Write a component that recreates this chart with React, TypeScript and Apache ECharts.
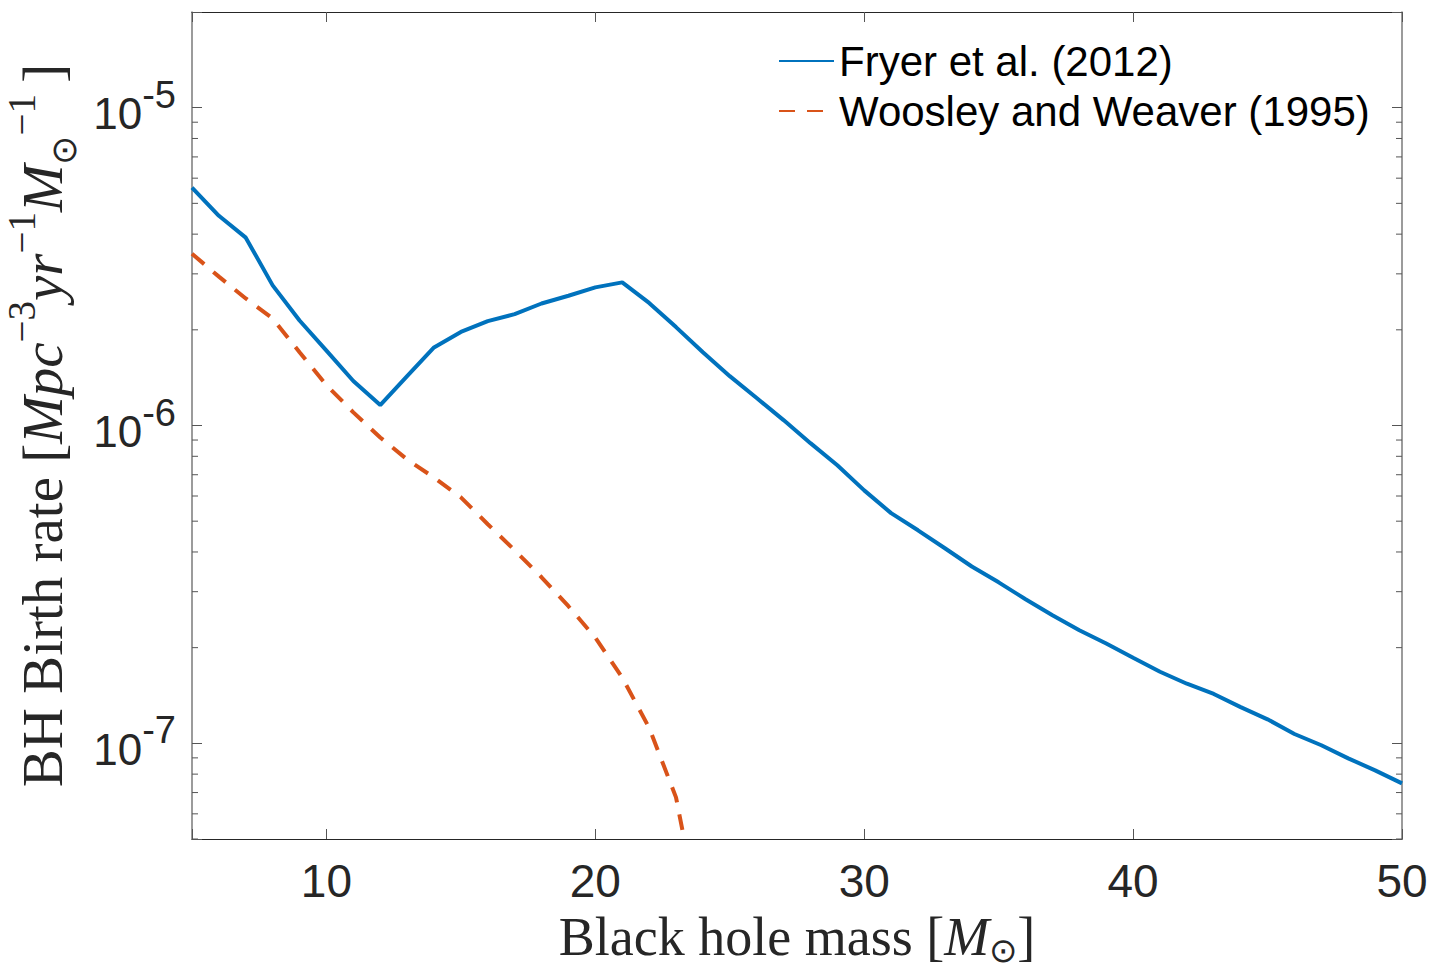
import React, { useEffect, useRef } from 'react';
import * as echarts from 'echarts';

// Black hole mass [M_sun]
const MASS_FRYER = [5, 6, 7, 8, 9, 10, 11, 12, 13, 14, 15, 16, 17, 18, 19, 20, 21, 22, 23, 24, 25, 26, 27, 28, 29, 30, 31, 32, 33, 34, 35, 36, 37, 38, 39, 40, 41, 42, 43, 44, 45, 46, 47, 48, 49, 50];
// BH birth rate, Fryer et al. (2012)
const RATE_FRYER = [5.6e-6, 4.57e-6, 3.9e-6, 2.76e-6, 2.14e-6, 1.72e-6, 1.38e-6, 1.16e-6, 1.43e-6, 1.76e-6, 1.97e-6, 2.13e-6, 2.24e-6, 2.42e-6, 2.56e-6, 2.72e-6, 2.82e-6, 2.43e-6, 2.04e-6, 1.7e-6, 1.43e-6, 1.22e-6, 1.04e-6, 8.8e-7, 7.5e-7, 6.25e-7, 5.3e-7, 4.68e-7, 4.11e-7, 3.6e-7, 3.21e-7, 2.84e-7, 2.53e-7, 2.27e-7, 2.06e-7, 1.86e-7, 1.68e-7, 1.54e-7, 1.43e-7, 1.3e-7, 1.19e-7, 1.07e-7, 9.86e-8, 8.97e-8, 8.22e-8, 7.48e-8];

const MASS_WW = [5, 6, 7, 8, 9, 10, 11, 12, 13, 14, 15, 16, 17, 18, 19, 20, 21, 22, 23, 24];
// BH birth rate, Woosley and Weaver (1995)
const RATE_WW = [3.47e-6, 2.94e-6, 2.51e-6, 2.17e-6, 1.7e-6, 1.34e-6, 1.1e-6, 9.17e-7, 7.82e-7, 6.86e-7, 5.94e-7, 4.89e-7, 4.05e-7, 3.33e-7, 2.7e-7, 2.15e-7, 1.61e-7, 1.12e-7, 6.76e-8, 2.5e-8];

const SERIES_NAMES = ['Fryer et al. (2012)', 'Woosley and Weaver (1995)'];

const X_MIN = 5;
const X_MAX = 50;
const Y_MIN = 5e-8;
const Y_MAX = 2e-5;

// minor ticks of the log axis (2..9 of each decade)
const MINOR_TICKS = [
  5e-8, 6e-8, 7e-8, 8e-8, 9e-8,
  2e-7, 3e-7, 4e-7, 5e-7, 6e-7, 7e-7, 8e-7, 9e-7,
  2e-6, 3e-6, 4e-6, 5e-6, 6e-6, 7e-6, 8e-6, 9e-6,
];

const SANS = '"Liberation Sans", Arial, Helvetica, sans-serif';
const SERIF = '"Liberation Serif", "Times New Roman", serif';
const AX = '#262626';

export default function App() {
  const ref = useRef<HTMLDivElement>(null);

  useEffect(() => {
    if (!ref.current) return;
    const chart = echarts.init(ref.current, undefined, { renderer: 'svg' });

    const yLabelFormatter = (v: number) => {
      const e = Math.log10(v);
      const r = Math.round(e);
      if (Math.abs(e - r) > 1e-6) return '';
      return `{b|10}{s|${r}}`;
    };

    const xName = '{r|Black hole mass [}{i|M}{sub|⊙}{r|]}';
    const yName = '{r|BH Birth rate [}{i|Mpc}{s|−3}{i|yr}{s|−1}{i|M}{sub|⊙}{s|−1}{r|\u2009]}';

    const xRich = {
      r: { fontFamily: SERIF, fontSize: 54, lineHeight: 60, color: AX },
      i: { fontFamily: SERIF, fontStyle: 'italic', fontSize: 54, lineHeight: 60, color: AX },
      sub: { fontFamily: SERIF, fontSize: 34, lineHeight: 38, verticalAlign: 'bottom', color: AX },
    };
    const yRich = {
      r: { fontFamily: SERIF, fontSize: 57, lineHeight: 80, color: AX },
      i: { fontFamily: SERIF, fontStyle: 'italic', fontSize: 57, lineHeight: 80, color: AX },
      s: { fontFamily: SERIF, fontSize: 39, lineHeight: 54, verticalAlign: 'top', color: AX },
      sub: { fontFamily: SERIF, fontSize: 35, lineHeight: 38, verticalAlign: 'bottom', color: AX },
    };

    const option: any = {
      animation: false,
      backgroundColor: '#ffffff',
      grid: { left: 192, right: 33, top: 12, bottom: 133, containLabel: false, outerBoundsMode: 'none' },
      legend: {
        data: SERIES_NAMES,
        orient: 'vertical',
        left: 778,
        top: 36,
        padding: 0,
        itemGap: 0,
        itemWidth: 55,
        itemHeight: 4,
        itemStyle: { opacity: 0 },
        textStyle: { fontFamily: SANS, fontSize: 42, color: '#000', lineHeight: 50 },
      },
      xAxis: [
        {
          type: 'value',
          min: X_MIN,
          max: X_MAX,
          position: 'bottom',
          name: xName,
          nameLocation: 'middle',
          nameGap: 68,
          nameTextStyle: { rich: xRich },
          axisLine: { show: true, onZero: false, lineStyle: { color: AX, width: 1.2 } },
          axisTick: { show: true, inside: true, length: 10, lineStyle: { color: '#555', width: 1 } },
          axisLabel: {
            margin: 19,
            fontFamily: SANS,
            fontSize: 46,
            color: AX,
            formatter: (v: number) => (v === X_MIN ? '' : String(v)),
          },
          splitLine: { show: false },
        },
        {
          type: 'value',
          min: X_MIN,
          max: X_MAX,
          position: 'top',
          axisLine: { show: true, onZero: false, lineStyle: { color: AX, width: 1.2 } },
          axisTick: { show: true, inside: true, length: 10, lineStyle: { color: '#555', width: 1 } },
          axisLabel: { show: false },
          splitLine: { show: false },
        },
      ],
      yAxis: [
        {
          type: 'log',
          logBase: 10,
          min: Y_MIN,
          max: Y_MAX,
          position: 'left',
          name: yName,
          nameLocation: 'middle',
          nameGap: 106,
          nameTextStyle: { rich: yRich },
          axisLine: { show: true, onZero: false, lineStyle: { color: '#7a7a7a', width: 1.5 } },
          axisTick: { show: true, inside: true, length: 10, lineStyle: { color: '#555', width: 1 } },
          axisLabel: {
            margin: 16,
            padding: [12, 0, 0, 0],
            formatter: yLabelFormatter,
            rich: {
              b: { fontFamily: SANS, fontSize: 44, lineHeight: 76, color: AX },
              s: { fontFamily: SANS, fontSize: 38, lineHeight: 36, verticalAlign: 'top', color: AX },
            },
          },
          splitLine: { show: false },
        },
        {
          type: 'log',
          logBase: 10,
          min: Y_MIN,
          max: Y_MAX,
          position: 'right',
          axisLine: { show: true, onZero: false, lineStyle: { color: '#7a7a7a', width: 1.5 } },
          axisTick: { show: true, inside: true, length: 10, lineStyle: { color: '#555', width: 1 } },
          axisLabel: { show: false },
          splitLine: { show: false },
        },
      ],
      series: [
        {
          name: SERIES_NAMES[0],
          type: 'line',
          xAxisIndex: 0,
          yAxisIndex: 0,
          symbol: 'none',
          clip: true,
          lineStyle: { color: '#0072BD', width: 4 },
          itemStyle: { color: '#0072BD' },
          data: MASS_FRYER.map((m, i) => [m, RATE_FRYER[i]]),
          z: 3,
        },
        {
          name: SERIES_NAMES[1],
          type: 'line',
          xAxisIndex: 0,
          yAxisIndex: 0,
          symbol: 'none',
          clip: true,
          lineStyle: { color: '#D95319', width: 4, type: [16, 12] },
          itemStyle: { color: '#D95319' },
          data: MASS_WW.map((m, i) => [m, RATE_WW[i]]),
          z: 3,
        },
        {
          name: 'minor-ticks',
          type: 'custom',
          xAxisIndex: 0,
          yAxisIndex: 0,
          silent: true,
          clip: false,
          data: MINOR_TICKS.map((v) => [X_MIN, v]),
          renderItem: (params: any, api: any) => {
            const p = api.coord([api.value(0), api.value(1)]);
            const cs = params.coordSys;
            const st = { stroke: '#555', lineWidth: 1 };
            return {
              type: 'group',
              children: [
                { type: 'line', shape: { x1: cs.x, y1: p[1], x2: cs.x + 6, y2: p[1] }, style: st },
                { type: 'line', shape: { x1: cs.x + cs.width - 6, y1: p[1], x2: cs.x + cs.width, y2: p[1] }, style: st },
              ],
            };
          },
          z: 2,
        },
      ],
    };

    chart.setOption(option);
    return () => chart.dispose();
  }, []);

  return (
    <div
      ref={ref}
      style={{ position: 'fixed', left: 0, top: 0, width: 1435, height: 972, background: '#fff' }}
    />
  );
}
